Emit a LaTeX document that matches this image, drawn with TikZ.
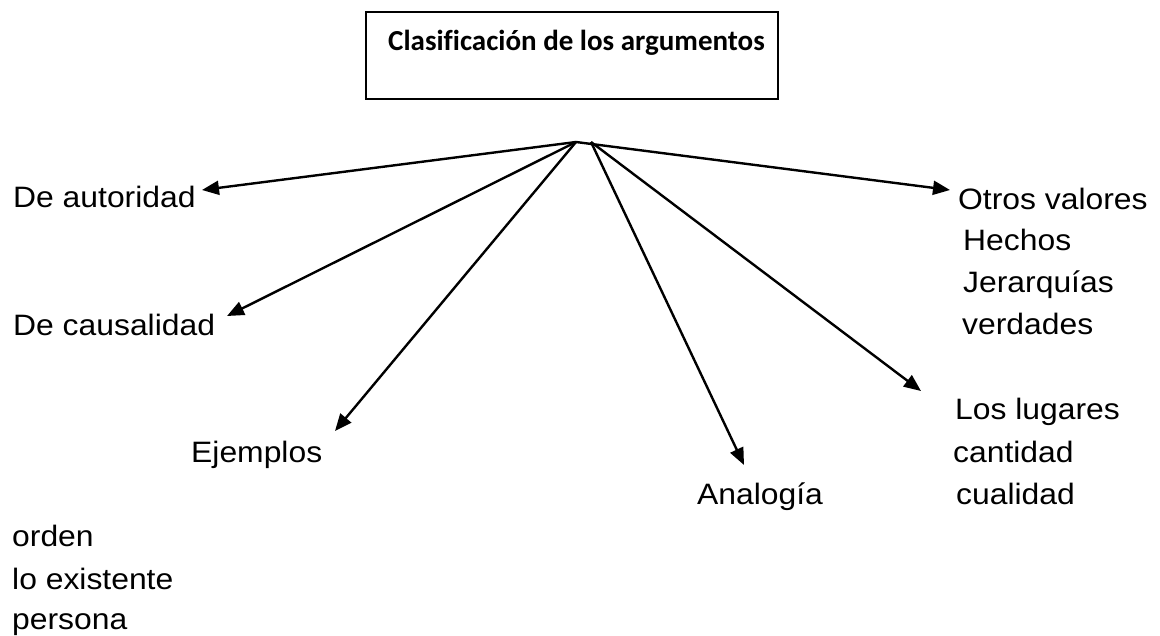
\documentclass[tikz,border=0pt]{standalone}
\usepackage{fontspec}
\setmainfont{Liberation Sans}
\newfontfamily\argfont[FakeStretch=1.08]{Liberation Sans}
\newfontfamily\titfont[Ligatures=NoCommon]{Carlito}
\usetikzlibrary{arrows.meta}
\tikzset{
  lbl/.style={anchor=base west, inner sep=0pt, font=\argfont\fontsize{29.5}{34}\selectfont},
  titlebox/.style={draw, line width=2pt, minimum width=412pt, minimum height=87pt, inner sep=0pt},
  titletext/.style={anchor=base west, inner sep=0pt, font=\titfont\bfseries\fontsize{29}{34}\selectfont},
  arr/.style={line width=2.4pt, -{Triangle[length=17pt,width=14pt]}}
}
\begin{document}
\begin{tikzpicture}[x=1pt,y=-1pt]
\useasboundingbox (0,0) rectangle (1160,635);
\node[titlebox] (box) at (572,55.5) {};
\node[titletext] (title) at (388,50) {Clasificación de los argumentos};
% apex points
\coordinate (L) at (576,142);
\coordinate (R) at (591,142);
% labels
\node[lbl] (aut) at (13,207) {De autoridad};
\node[lbl] (cau) at (13,335) {De causalidad};
\node[lbl] (eje) at (191,462) {Ejemplos};
\node[lbl] (ana) at (697,504) {Analogía};
\node[lbl] (otr) at (958,209) {Otros valores};
\node[lbl] (hec) at (963,250) {Hechos};
\node[lbl] (jer) at (963,292) {Jerarquías};
\node[lbl] (ver) at (962,334) {verdades};
\node[lbl] (lug) at (955,419) {Los lugares};
\node[lbl] (can) at (953,462) {cantidad};
\node[lbl] (cua) at (956,504) {cualidad};
\node[lbl] (ord) at (12,546) {orden};
\node[lbl] (exi) at (12,589) {lo existente};
\node[lbl] (per) at (12,629) {persona};
% arrow tips
\coordinate (tAut) at (202,190);
\coordinate (tCau) at (227,316);
\coordinate (tEje) at (335,431);
\coordinate (tAna) at (744,465);
\coordinate (tLug) at (921,391);
\coordinate (tOtr) at (950,190);
% arrows
\draw[arr] (L) -- (tAut);
\draw[arr] (L) -- (tCau);
\draw[arr] (L) -- (tEje);
\draw[arr] (L) -- (tOtr);
\draw[arr] (R) -- (tAna);
\draw[arr] (R) -- (tLug);
\end{tikzpicture}
\end{document}
